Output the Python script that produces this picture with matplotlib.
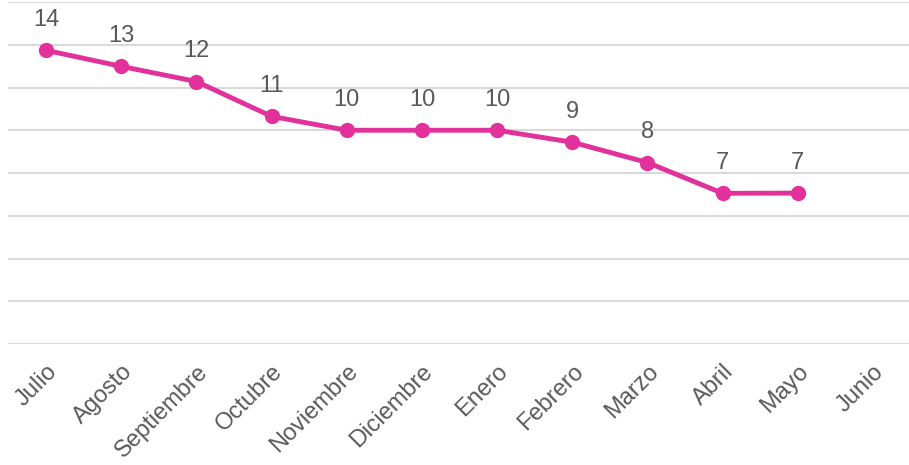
import matplotlib.pyplot as plt
import numpy as np

plt.rcParams['font.family'] = ['Liberation Sans', 'DejaVu Sans']

months = ["Julio", "Agosto", "Septiembre", "Octubre", "Noviembre", "Diciembre",
          "Enero", "Febrero", "Marzo", "Abril", "Mayo", "Junio"]
values = [13.74, 12.99, 12.28, 10.65, 10.0, 10.0, 10.0, 9.44, 8.49, 7.05, 7.06, np.nan]
labels = ["14", "13", "12", "11", "10", "10", "10", "9", "8", "7", "7", ""]

pink = "#E2319A"
grey = "#595959"

fig = plt.figure(figsize=(9.09, 4.65), dpi=100)
ax = fig.add_axes([8.4/909, 1 - 344/465, 902.2/909, 342/465])

x = np.arange(len(months))
ax.plot(x, values, color=pink, linewidth=3.5, marker="o", markersize=10, zorder=3)

# data labels above each point
for xi, v, lab in zip(x, values, labels):
    if lab:
        ax.annotate(lab, (xi, v), xytext=(0, 14), textcoords="offset points",
                    ha="center", va="bottom", fontsize=17, color=grey)

ax.set_xlim(-0.5, len(months) - 0.5)
ax.set_ylim(0, 16)
ax.set_yticks(np.arange(0, 17, 2))
ax.yaxis.grid(True, color="#D9D9D9", linewidth=1.5)
ax.set_axisbelow(True)
ax.tick_params(axis="y", left=False, labelleft=False)
ax.tick_params(axis="x", length=0, pad=12)
ax.set_xticks(x)
ax.set_xticklabels(months, rotation=45, ha="right", rotation_mode="anchor",
                   fontsize=17, color=grey)
for s in ax.spines.values():
    s.set_visible(False)

fig.savefig("out.png", dpi=100)
